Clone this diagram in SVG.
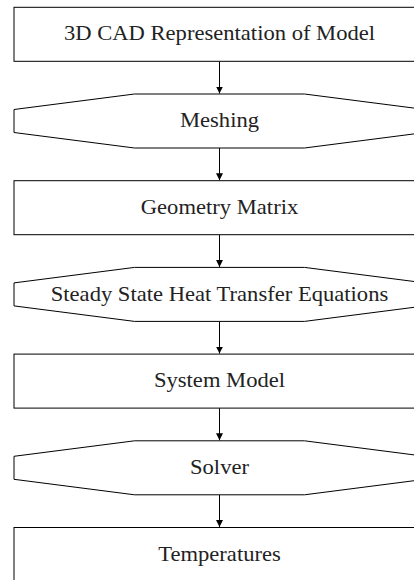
<svg xmlns="http://www.w3.org/2000/svg" width="414" height="580" viewBox="0 0 414 580">
<style>
.n{fill:#fff;stroke:#000;stroke-width:1}
.t{font-family:"Liberation Serif","Times New Roman",serif;font-size:20px;fill:#222;text-anchor:middle}
.c{stroke:#000;stroke-width:1;fill:none}
</style>
<defs>
<marker id="ah" markerWidth="8" markerHeight="9" refX="7" refY="4.5" orient="auto" markerUnits="userSpaceOnUse">
<path d="M0,1 L7,4.5 L0,8 Z" fill="#000"/>
</marker>
</defs>
<rect width="414" height="580" fill="#fff"/>
<g id="connectors">
<line class="c" x1="219.5" y1="61.3" x2="219.5" y2="93.5" marker-end="url(#ah)"/>
<line class="c" x1="219.5" y1="148" x2="219.5" y2="180.2" marker-end="url(#ah)"/>
<line class="c" x1="219.5" y1="234.7" x2="219.5" y2="266.9" marker-end="url(#ah)"/>
<line class="c" x1="219.5" y1="321.4" x2="219.5" y2="353.6" marker-end="url(#ah)"/>
<line class="c" x1="219.5" y1="408.1" x2="219.5" y2="440.3" marker-end="url(#ah)"/>
<line class="c" x1="219.5" y1="494.8" x2="219.5" y2="527" marker-end="url(#ah)"/>
</g>
<g id="n1">
<rect class="n" x="14" y="7.3" width="411" height="54"/>
<text class="t" transform="translate(219.5,40.2) scale(1.13,1)">3D CAD Representation of Model</text>
</g>
<g id="n2">
<path class="n" d="M14,109.5 L134.5,94 L304.5,94 L425,109.5 L425,132.5 L304.5,148 L134.5,148 L14,132.5 Z"/>
<text class="t" transform="translate(219.5,127.4) scale(1.13,1)">Meshing</text>
</g>
<g id="n3">
<rect class="n" x="14" y="180.7" width="411" height="54"/>
<text class="t" transform="translate(219.5,213.6) scale(1.13,1)">Geometry Matrix</text>
</g>
<g id="n4">
<path class="n" d="M14,282.9 L134.5,267.4 L304.5,267.4 L425,282.9 L425,305.9 L304.5,321.4 L134.5,321.4 L14,305.9 Z"/>
<text class="t" transform="translate(219.5,300.8) scale(1.13,1)">Steady State Heat Transfer Equations</text>
</g>
<g id="n5">
<rect class="n" x="14" y="354.1" width="411" height="54"/>
<text class="t" transform="translate(219.5,387) scale(1.13,1)">System Model</text>
</g>
<g id="n6">
<path class="n" d="M14,456.3 L134.5,440.8 L304.5,440.8 L425,456.3 L425,479.3 L304.5,494.8 L134.5,494.8 L14,479.3 Z"/>
<text class="t" transform="translate(219.5,474.2) scale(1.13,1)">Solver</text>
</g>
<g id="n7">
<rect class="n" x="14" y="527.5" width="411" height="60"/>
<text class="t" transform="translate(219.5,560.5) scale(1.13,1)">Temperatures</text>
</g>
</svg>
